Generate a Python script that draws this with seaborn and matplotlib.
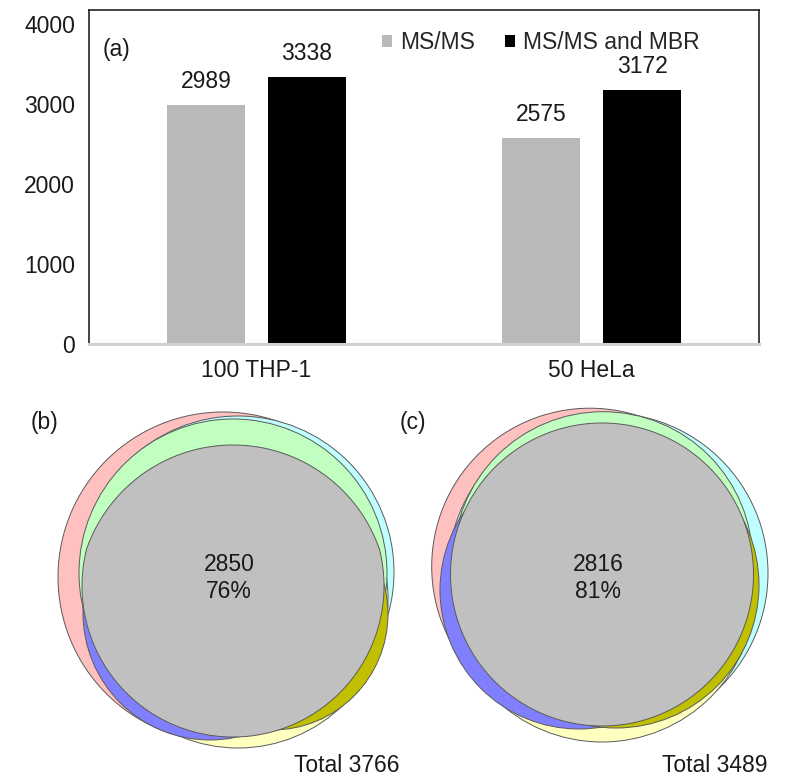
import numpy as np
import pandas as pd
import seaborn as sns
import matplotlib.pyplot as plt
from matplotlib.patches import Circle, Polygon

# bar chart data (a)
categories = ["100 THP-1", "50 HeLa"]
series = ["MS/MS", "MS/MS and MBR"]
msms = [2989, 2575]
msms_mbr = [3338, 3172]
yticks = [0, 1000, 2000, 3000, 4000]

# venn data (b), (c)
venn_tags = ["(b)", "(c)"]
venn_core = [2850, 2816]
venn_pct = [76, 81]
venn_total = [3766, 3489]

# venn shapes: circle (centre x, centre y, radius) per coloured region,
# painted in this order; the grey core is the overlap of a few circles
region_colors = {"pink": "#FFC0C0", "cyan": "#C0FFFF", "yellow": "#FFFFC0",
                 "green": "#C0FFC0", "blue": "#8080FF", "olive": "#C0C000"}
venn_b = {"pink": (223, 577, 165), "cyan": (238, 572, 156),
          "yellow": (238, 598, 150), "green": (233, 573, 154),
          "blue": (210, 613, 127), "olive": (272, 614, 116)}
venn_c = {"pink": (590, 566.5, 158.3), "cyan": (608, 573, 160),
          "yellow": (602, 588, 154), "green": (603, 561.4, 149.7),
          "blue": (579, 590, 139), "olive": (616, 585, 143)}
core_b = [(233, 586, 151), (233, 600, 155)]
core_c = [(602, 574.5, 151.5), (602, 580, 158)]

sns.set_theme(style="white")
plt.rcParams["font.family"] = ["Liberation Sans", "DejaVu Sans"]
FS = 16.5
INK = "#1a1a1a"

fig = plt.figure(figsize=(8, 7.82), dpi=100)

# ---- (a) bar chart
ax = fig.add_axes([0.111, 0.560, 0.838, 0.427])
df = pd.DataFrame({
    "sample": categories * 2,
    "count": msms + msms_mbr,
    "method": [series[0]] * 2 + [series[1]] * 2,
})
sns.barplot(data=df, x="sample", y="count", hue="method",
            palette=["#B9B9B9", "#000000"], width=0.603, gap=0.228,
            saturation=1, linewidth=0, ax=ax)
for cont in ax.containers:
    ax.bar_label(cont, padding=9, fontsize=FS, color=INK)

ax.set_xlim(-0.5, 1.5)
ax.set_ylim(0, 4175)
ax.set_yticks(yticks)
ax.set_xlabel("")
ax.set_ylabel("")
ax.tick_params(axis="y", length=0, labelsize=FS, pad=10, colors=INK)
ax.tick_params(axis="x", length=0, labelsize=FS, pad=11, colors=INK)
for s in ["left", "top", "right"]:
    ax.spines[s].set_color("#222222")
    ax.spines[s].set_linewidth(1.2)
ax.spines["bottom"].set_color("#D0D0D0")
ax.spines["bottom"].set_linewidth(2.2)
ax.text(0.021, 0.883, "(a)", transform=ax.transAxes, fontsize=FS,
        va="center", ha="left", color=INK)
ax.legend(loc="upper right", bbox_to_anchor=(0.935, 0.985), ncol=2,
          frameon=False, fontsize=FS, handlelength=0.45, handleheight=0.45,
          handletextpad=0.35, columnspacing=1.3, borderaxespad=0.3)


# ---- (b), (c) venn diagrams
def overlap(circs, n=1440):
    t = np.linspace(0, 2 * np.pi, n, endpoint=False)
    pts = []
    for i, (x, y, r) in enumerate(circs):
        p = np.column_stack([x + r * np.cos(t), y + r * np.sin(t)])
        keep = np.ones(len(p), bool)
        for j, (x2, y2, r2) in enumerate(circs):
            if j != i:
                keep &= (p[:, 0] - x2) ** 2 + (p[:, 1] - y2) ** 2 <= r2 ** 2 + 1e-6
        pts.append(p[keep])
    p = np.vstack(pts)
    c = p.mean(0)
    return p[np.argsort(np.arctan2(p[:, 1] - c[1], p[:, 0] - c[0]))]


axv = fig.add_axes([0, 0, 1, 402 / 782])
axv.set_xlim(0, 800)
axv.set_ylim(782, 380)
axv.axis("off")

edge = dict(edgecolor="#5a5a5a", linewidth=0.7)
for k, (shapes, core) in enumerate([(venn_b, core_b), (venn_c, core_c)]):
    for name, (x, y, r) in shapes.items():
        axv.add_patch(Circle((x, y), r, facecolor=region_colors[name], **edge))
    poly = overlap(core)
    axv.add_patch(Polygon(poly, closed=True, facecolor="#C0C0C0", **edge))

    cx = core[0][0]
    axv.text(cx - 4, 578, f"{venn_core[k]}\n{venn_pct[k]}%",
             ha="center", va="center", fontsize=FS, linespacing=1.25, color=INK)
    axv.text(cx - 189, 422, venn_tags[k], ha="center", va="center",
             fontsize=FS, color=INK)
    axv.text(cx + 166, 765, f"Total {venn_total[k]}", ha="right",
             va="center", fontsize=FS, color=INK)

fig.savefig("out.png", dpi=100)
